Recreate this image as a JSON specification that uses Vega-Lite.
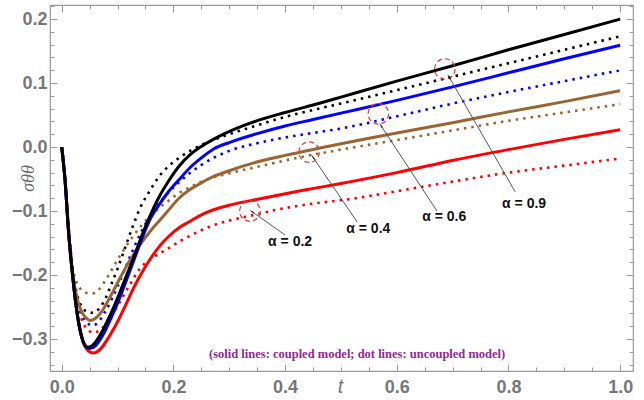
{
"$schema": "https://vega.github.io/schema/vega-lite/v6.json",
"width": 583, "height": 366,
"autosize": "none",
"padding": {"left": 50, "top": 5, "right": 11, "bottom": 29},
"background": "white",
"config": {
 "view": {"stroke": "#9a9a9a", "strokeWidth": 1.2},
 "axis": {"domain": false, "grid": false, "tickColor": "#9a9a9a", "tickWidth": 1, "labelFont": "Liberation Sans", "labelFontWeight": "bold", "labelFontSize": 18, "labelColor": "#777777", "labelFlush": false, "labelOverlap": false}
},
"datasets": {
 "curves": [
  {"a":"0.2","m":"uncoupled","t":0,"v":0},{"a":"0.2","m":"uncoupled","t":0.006,"v":-0.05},{"a":"0.2","m":"uncoupled","t":0.012,"v":-0.122},{"a":"0.2","m":"uncoupled","t":0.02,"v":-0.195},{"a":"0.2","m":"uncoupled","t":0.028,"v":-0.245},{"a":"0.2","m":"uncoupled","t":0.036,"v":-0.27},{"a":"0.2","m":"uncoupled","t":0.045,"v":-0.284},{"a":"0.2","m":"uncoupled","t":0.057,"v":-0.29},{"a":"0.2","m":"uncoupled","t":0.07,"v":-0.285},{"a":"0.2","m":"uncoupled","t":0.085,"v":-0.268},{"a":"0.2","m":"uncoupled","t":0.1,"v":-0.248},{"a":"0.2","m":"uncoupled","t":0.12,"v":-0.218},{"a":"0.2","m":"uncoupled","t":0.14,"v":-0.19},{"a":"0.2","m":"uncoupled","t":0.165,"v":-0.172},{"a":"0.2","m":"uncoupled","t":0.188,"v":-0.16},{"a":"0.2","m":"uncoupled","t":0.21,"v":-0.148},{"a":"0.2","m":"uncoupled","t":0.227,"v":-0.14},{"a":"0.2","m":"uncoupled","t":0.25,"v":-0.13},{"a":"0.2","m":"uncoupled","t":0.272,"v":-0.122},{"a":"0.2","m":"uncoupled","t":0.3,"v":-0.115},{"a":"0.2","m":"uncoupled","t":0.35,"v":-0.105},{"a":"0.2","m":"uncoupled","t":0.39,"v":-0.097},{"a":"0.2","m":"uncoupled","t":0.43,"v":-0.091},{"a":"0.2","m":"uncoupled","t":0.534,"v":-0.079},{"a":"0.2","m":"uncoupled","t":0.6,"v":-0.069},{"a":"0.2","m":"uncoupled","t":0.7,"v":-0.054},{"a":"0.2","m":"uncoupled","t":0.8,"v":-0.04},{"a":"0.2","m":"uncoupled","t":0.9,"v":-0.029},{"a":"0.2","m":"uncoupled","t":1.0,"v":-0.018},
  {"a":"0.4","m":"uncoupled","t":0,"v":0},{"a":"0.4","m":"uncoupled","t":0.006,"v":-0.05},{"a":"0.4","m":"uncoupled","t":0.012,"v":-0.12},{"a":"0.4","m":"uncoupled","t":0.02,"v":-0.19},{"a":"0.4","m":"uncoupled","t":0.028,"v":-0.214},{"a":"0.4","m":"uncoupled","t":0.036,"v":-0.224},{"a":"0.4","m":"uncoupled","t":0.045,"v":-0.228},{"a":"0.4","m":"uncoupled","t":0.054,"v":-0.229},{"a":"0.4","m":"uncoupled","t":0.065,"v":-0.224},{"a":"0.4","m":"uncoupled","t":0.08,"v":-0.206},{"a":"0.4","m":"uncoupled","t":0.1,"v":-0.176},{"a":"0.4","m":"uncoupled","t":0.128,"v":-0.139},{"a":"0.4","m":"uncoupled","t":0.158,"v":-0.108},{"a":"0.4","m":"uncoupled","t":0.188,"v":-0.086},{"a":"0.4","m":"uncoupled","t":0.21,"v":-0.072},{"a":"0.4","m":"uncoupled","t":0.227,"v":-0.064},{"a":"0.4","m":"uncoupled","t":0.25,"v":-0.054},{"a":"0.4","m":"uncoupled","t":0.3,"v":-0.041},{"a":"0.4","m":"uncoupled","t":0.35,"v":-0.031},{"a":"0.4","m":"uncoupled","t":0.4,"v":-0.021},{"a":"0.4","m":"uncoupled","t":0.45,"v":-0.012},{"a":"0.4","m":"uncoupled","t":0.5,"v":-0.004},{"a":"0.4","m":"uncoupled","t":0.6,"v":0.011},{"a":"0.4","m":"uncoupled","t":0.7,"v":0.026},{"a":"0.4","m":"uncoupled","t":0.8,"v":0.041},{"a":"0.4","m":"uncoupled","t":0.9,"v":0.054},{"a":"0.4","m":"uncoupled","t":1.0,"v":0.067},
  {"a":"0.6","m":"uncoupled","t":0,"v":0},{"a":"0.6","m":"uncoupled","t":0.006,"v":-0.052},{"a":"0.6","m":"uncoupled","t":0.012,"v":-0.128},{"a":"0.6","m":"uncoupled","t":0.02,"v":-0.2},{"a":"0.6","m":"uncoupled","t":0.028,"v":-0.24},{"a":"0.6","m":"uncoupled","t":0.036,"v":-0.262},{"a":"0.6","m":"uncoupled","t":0.045,"v":-0.274},{"a":"0.6","m":"uncoupled","t":0.055,"v":-0.279},{"a":"0.6","m":"uncoupled","t":0.065,"v":-0.274},{"a":"0.6","m":"uncoupled","t":0.08,"v":-0.254},{"a":"0.6","m":"uncoupled","t":0.1,"v":-0.218},{"a":"0.6","m":"uncoupled","t":0.12,"v":-0.176},{"a":"0.6","m":"uncoupled","t":0.14,"v":-0.137},{"a":"0.6","m":"uncoupled","t":0.158,"v":-0.108},{"a":"0.6","m":"uncoupled","t":0.176,"v":-0.086},{"a":"0.6","m":"uncoupled","t":0.19,"v":-0.072},{"a":"0.6","m":"uncoupled","t":0.21,"v":-0.055},{"a":"0.6","m":"uncoupled","t":0.25,"v":-0.028},{"a":"0.6","m":"uncoupled","t":0.3,"v":-0.006},{"a":"0.6","m":"uncoupled","t":0.35,"v":0.006},{"a":"0.6","m":"uncoupled","t":0.4,"v":0.015},{"a":"0.6","m":"uncoupled","t":0.45,"v":0.022},{"a":"0.6","m":"uncoupled","t":0.5,"v":0.029},{"a":"0.6","m":"uncoupled","t":0.6,"v":0.048},{"a":"0.6","m":"uncoupled","t":0.7,"v":0.068},{"a":"0.6","m":"uncoupled","t":0.8,"v":0.086},{"a":"0.6","m":"uncoupled","t":0.9,"v":0.103},{"a":"0.6","m":"uncoupled","t":1.0,"v":0.12},
  {"a":"0.9","m":"uncoupled","t":0,"v":0},{"a":"0.9","m":"uncoupled","t":0.006,"v":-0.052},{"a":"0.9","m":"uncoupled","t":0.012,"v":-0.128},{"a":"0.9","m":"uncoupled","t":0.02,"v":-0.195},{"a":"0.9","m":"uncoupled","t":0.028,"v":-0.232},{"a":"0.9","m":"uncoupled","t":0.036,"v":-0.25},{"a":"0.9","m":"uncoupled","t":0.045,"v":-0.257},{"a":"0.9","m":"uncoupled","t":0.055,"v":-0.259},{"a":"0.9","m":"uncoupled","t":0.063,"v":-0.256},{"a":"0.9","m":"uncoupled","t":0.075,"v":-0.242},{"a":"0.9","m":"uncoupled","t":0.09,"v":-0.212},{"a":"0.9","m":"uncoupled","t":0.1,"v":-0.19},{"a":"0.9","m":"uncoupled","t":0.11,"v":-0.166},{"a":"0.9","m":"uncoupled","t":0.128,"v":-0.122},{"a":"0.9","m":"uncoupled","t":0.14,"v":-0.096},{"a":"0.9","m":"uncoupled","t":0.158,"v":-0.068},{"a":"0.9","m":"uncoupled","t":0.176,"v":-0.044},{"a":"0.9","m":"uncoupled","t":0.19,"v":-0.031},{"a":"0.9","m":"uncoupled","t":0.21,"v":-0.017},{"a":"0.9","m":"uncoupled","t":0.23,"v":-0.006},{"a":"0.9","m":"uncoupled","t":0.25,"v":0.003},{"a":"0.9","m":"uncoupled","t":0.3,"v":0.02},{"a":"0.9","m":"uncoupled","t":0.35,"v":0.034},{"a":"0.9","m":"uncoupled","t":0.4,"v":0.047},{"a":"0.9","m":"uncoupled","t":0.46,"v":0.06},{"a":"0.9","m":"uncoupled","t":0.5,"v":0.068},{"a":"0.9","m":"uncoupled","t":0.6,"v":0.089},{"a":"0.9","m":"uncoupled","t":0.7,"v":0.11},{"a":"0.9","m":"uncoupled","t":0.8,"v":0.131},{"a":"0.9","m":"uncoupled","t":0.9,"v":0.152},{"a":"0.9","m":"uncoupled","t":1.0,"v":0.173},
  {"a":"0.2","m":"coupled","t":0,"v":0},{"a":"0.2","m":"coupled","t":0.006,"v":-0.052},{"a":"0.2","m":"coupled","t":0.012,"v":-0.13},{"a":"0.2","m":"coupled","t":0.02,"v":-0.205},{"a":"0.2","m":"coupled","t":0.028,"v":-0.262},{"a":"0.2","m":"coupled","t":0.036,"v":-0.298},{"a":"0.2","m":"coupled","t":0.045,"v":-0.316},{"a":"0.2","m":"coupled","t":0.057,"v":-0.322},{"a":"0.2","m":"coupled","t":0.07,"v":-0.315},{"a":"0.2","m":"coupled","t":0.085,"v":-0.296},{"a":"0.2","m":"coupled","t":0.1,"v":-0.273},{"a":"0.2","m":"coupled","t":0.115,"v":-0.246},{"a":"0.2","m":"coupled","t":0.13,"v":-0.218},{"a":"0.2","m":"coupled","t":0.145,"v":-0.194},{"a":"0.2","m":"coupled","t":0.16,"v":-0.173},{"a":"0.2","m":"coupled","t":0.176,"v":-0.154},{"a":"0.2","m":"coupled","t":0.19,"v":-0.141},{"a":"0.2","m":"coupled","t":0.212,"v":-0.125},{"a":"0.2","m":"coupled","t":0.23,"v":-0.116},{"a":"0.2","m":"coupled","t":0.25,"v":-0.106},{"a":"0.2","m":"coupled","t":0.272,"v":-0.098},{"a":"0.2","m":"coupled","t":0.3,"v":-0.091},{"a":"0.2","m":"coupled","t":0.36,"v":-0.08},{"a":"0.2","m":"coupled","t":0.43,"v":-0.068},{"a":"0.2","m":"coupled","t":0.5,"v":-0.057},{"a":"0.2","m":"coupled","t":0.6,"v":-0.04},{"a":"0.2","m":"coupled","t":0.7,"v":-0.021},{"a":"0.2","m":"coupled","t":0.8,"v":-0.004},{"a":"0.2","m":"coupled","t":0.9,"v":0.012},{"a":"0.2","m":"coupled","t":1.0,"v":0.027},
  {"a":"0.4","m":"coupled","t":0,"v":0},{"a":"0.4","m":"coupled","t":0.006,"v":-0.052},{"a":"0.4","m":"coupled","t":0.012,"v":-0.128},{"a":"0.4","m":"coupled","t":0.02,"v":-0.2},{"a":"0.4","m":"coupled","t":0.028,"v":-0.238},{"a":"0.4","m":"coupled","t":0.036,"v":-0.258},{"a":"0.4","m":"coupled","t":0.045,"v":-0.268},{"a":"0.4","m":"coupled","t":0.051,"v":-0.271},{"a":"0.4","m":"coupled","t":0.06,"v":-0.268},{"a":"0.4","m":"coupled","t":0.07,"v":-0.259},{"a":"0.4","m":"coupled","t":0.085,"v":-0.237},{"a":"0.4","m":"coupled","t":0.1,"v":-0.212},{"a":"0.4","m":"coupled","t":0.12,"v":-0.18},{"a":"0.4","m":"coupled","t":0.14,"v":-0.153},{"a":"0.4","m":"coupled","t":0.16,"v":-0.13},{"a":"0.4","m":"coupled","t":0.176,"v":-0.114},{"a":"0.4","m":"coupled","t":0.19,"v":-0.1},{"a":"0.4","m":"coupled","t":0.21,"v":-0.08},{"a":"0.4","m":"coupled","t":0.227,"v":-0.068},{"a":"0.4","m":"coupled","t":0.25,"v":-0.056},{"a":"0.4","m":"coupled","t":0.272,"v":-0.046},{"a":"0.4","m":"coupled","t":0.3,"v":-0.037},{"a":"0.4","m":"coupled","t":0.36,"v":-0.021},{"a":"0.4","m":"coupled","t":0.4,"v":-0.013},{"a":"0.4","m":"coupled","t":0.46,"v":-0.002},{"a":"0.4","m":"coupled","t":0.534,"v":0.011},{"a":"0.4","m":"coupled","t":0.6,"v":0.022},{"a":"0.4","m":"coupled","t":0.7,"v":0.038},{"a":"0.4","m":"coupled","t":0.8,"v":0.055},{"a":"0.4","m":"coupled","t":0.9,"v":0.071},{"a":"0.4","m":"coupled","t":1.0,"v":0.088},
  {"a":"0.6","m":"coupled","t":0,"v":0},{"a":"0.6","m":"coupled","t":0.006,"v":-0.052},{"a":"0.6","m":"coupled","t":0.012,"v":-0.13},{"a":"0.6","m":"coupled","t":0.02,"v":-0.205},{"a":"0.6","m":"coupled","t":0.028,"v":-0.262},{"a":"0.6","m":"coupled","t":0.036,"v":-0.298},{"a":"0.6","m":"coupled","t":0.045,"v":-0.313},{"a":"0.6","m":"coupled","t":0.05,"v":-0.315},{"a":"0.6","m":"coupled","t":0.06,"v":-0.311},{"a":"0.6","m":"coupled","t":0.075,"v":-0.292},{"a":"0.6","m":"coupled","t":0.09,"v":-0.264},{"a":"0.6","m":"coupled","t":0.1,"v":-0.244},{"a":"0.6","m":"coupled","t":0.115,"v":-0.21},{"a":"0.6","m":"coupled","t":0.13,"v":-0.175},{"a":"0.6","m":"coupled","t":0.145,"v":-0.14},{"a":"0.6","m":"coupled","t":0.16,"v":-0.11},{"a":"0.6","m":"coupled","t":0.176,"v":-0.088},{"a":"0.6","m":"coupled","t":0.19,"v":-0.071},{"a":"0.6","m":"coupled","t":0.21,"v":-0.051},{"a":"0.6","m":"coupled","t":0.23,"v":-0.032},{"a":"0.6","m":"coupled","t":0.25,"v":-0.017},{"a":"0.6","m":"coupled","t":0.272,"v":-0.003},{"a":"0.6","m":"coupled","t":0.3,"v":0.007},{"a":"0.6","m":"coupled","t":0.35,"v":0.021},{"a":"0.6","m":"coupled","t":0.4,"v":0.033},{"a":"0.6","m":"coupled","t":0.45,"v":0.043},{"a":"0.6","m":"coupled","t":0.5,"v":0.053},{"a":"0.6","m":"coupled","t":0.6,"v":0.073},{"a":"0.6","m":"coupled","t":0.7,"v":0.094},{"a":"0.6","m":"coupled","t":0.8,"v":0.116},{"a":"0.6","m":"coupled","t":0.9,"v":0.138},{"a":"0.6","m":"coupled","t":1.0,"v":0.159},
  {"a":"0.9","m":"coupled","t":0,"v":0},{"a":"0.9","m":"coupled","t":0.006,"v":-0.052},{"a":"0.9","m":"coupled","t":0.012,"v":-0.13},{"a":"0.9","m":"coupled","t":0.02,"v":-0.205},{"a":"0.9","m":"coupled","t":0.028,"v":-0.262},{"a":"0.9","m":"coupled","t":0.036,"v":-0.297},{"a":"0.9","m":"coupled","t":0.045,"v":-0.313},{"a":"0.9","m":"coupled","t":0.055,"v":-0.31},{"a":"0.9","m":"coupled","t":0.07,"v":-0.292},{"a":"0.9","m":"coupled","t":0.085,"v":-0.266},{"a":"0.9","m":"coupled","t":0.1,"v":-0.236},{"a":"0.9","m":"coupled","t":0.115,"v":-0.203},{"a":"0.9","m":"coupled","t":0.13,"v":-0.17},{"a":"0.9","m":"coupled","t":0.145,"v":-0.135},{"a":"0.9","m":"coupled","t":0.16,"v":-0.104},{"a":"0.9","m":"coupled","t":0.175,"v":-0.077},{"a":"0.9","m":"coupled","t":0.19,"v":-0.055},{"a":"0.9","m":"coupled","t":0.21,"v":-0.03},{"a":"0.9","m":"coupled","t":0.23,"v":-0.012},{"a":"0.9","m":"coupled","t":0.25,"v":0.001},{"a":"0.9","m":"coupled","t":0.28,"v":0.016},{"a":"0.9","m":"coupled","t":0.33,"v":0.035},{"a":"0.9","m":"coupled","t":0.4,"v":0.054},{"a":"0.9","m":"coupled","t":0.46,"v":0.068},{"a":"0.9","m":"coupled","t":0.5,"v":0.078},{"a":"0.9","m":"coupled","t":0.6,"v":0.103},{"a":"0.9","m":"coupled","t":0.7,"v":0.127},{"a":"0.9","m":"coupled","t":0.8,"v":0.152},{"a":"0.9","m":"coupled","t":0.9,"v":0.176},{"a":"0.9","m":"coupled","t":1.0,"v":0.2}
 ],
 "annots": [
  {"label":"α = 0.2","ct":0.337,"cv":-0.100,"st":0.400,"sv":-0.1375,"ht":0.341,"hv":-0.101,"lt":0.409,"lv":-0.148},
  {"label":"α = 0.4","ct":0.443,"cv":-0.008,"st":0.529,"sv":-0.117,"ht":0.450,"hv":-0.016,"lt":0.549,"lv":-0.128},
  {"label":"α = 0.6","ct":0.567,"cv":0.052,"st":0.672,"sv":-0.100,"ht":0.572,"hv":0.033,"lt":0.685,"lv":-0.109},
  {"label":"α = 0.9","ct":0.686,"cv":0.122,"st":0.812,"sv":-0.070,"ht":0.694,"hv":0.109,"lt":0.828,"lv":-0.089}
 ],
 "note": [{"t":0.529,"v":-0.323,"text":"(solid lines: coupled model; dot lines: uncoupled model)"}]
},
"layer": [
 {
  "mark": {"type": "rule", "color": "#8a8a8a", "strokeWidth": 1},
  "encoding": {"y": {"datum": 0, "type": "quantitative", "scale": {"domain": [-0.35, 0.222], "nice": false, "zero": false}, "axis": null}}
 },
 {
  "data": {"name": "curves"},
  "transform": [{"filter": "datum.m == 'uncoupled'"}],
  "mark": {"type": "line", "strokeWidth": 2.6, "strokeDash": [2.5, 5], "strokeCap": "butt", "interpolate": "monotone"},
  "encoding": {
   "x": {"field": "t", "type": "quantitative", "scale": {"domain": [-0.021, 1.023], "nice": false, "zero": false},
     "axis": {"orient": "top", "title": null, "labels": false, "values": [0,0.05,0.1,0.15,0.2,0.25,0.3,0.35,0.4,0.45,0.5,0.55,0.6,0.65,0.7,0.75,0.8,0.85,0.9,0.95,1.0],
       "tickSize": {"condition": {"test": "abs(datum.value*5-round(datum.value*5))<1e-6", "value": -7}, "value": -4}}},
   "y": {"field": "v", "type": "quantitative", "scale": {"domain": [-0.35, 0.222], "nice": false, "zero": false},
     "axis": {"orient": "right", "title": null, "labels": false, "values": [-0.34,-0.32,-0.3,-0.28,-0.26,-0.24,-0.22,-0.2,-0.18,-0.16,-0.14,-0.12,-0.1,-0.08,-0.06,-0.04,-0.02,0,0.02,0.04,0.06,0.08,0.1,0.12,0.14,0.16,0.18,0.2,0.22],
       "tickSize": {"condition": {"test": "abs(datum.value*10-round(datum.value*10))<1e-6", "value": -7}, "value": -4}}},
   "color": {"field": "a", "type": "nominal", "scale": {"domain": ["0.2","0.4","0.6","0.9"], "range": ["#ff0000","#996633","#0000ff","#000000"]}, "legend": null},
   "detail": {"field": "a"}
  }
 },
 {
  "data": {"name": "curves"},
  "transform": [{"filter": "datum.m == 'coupled'"}],
  "mark": {"type": "line", "strokeWidth": 3, "interpolate": "monotone"},
  "encoding": {
   "x": {"field": "t", "type": "quantitative", "scale": {"domain": [-0.021, 1.023], "nice": false, "zero": false},
     "axis": {"orient": "bottom", "values": [0,0.05,0.1,0.15,0.2,0.25,0.3,0.35,0.4,0.45,0.5,0.55,0.6,0.65,0.7,0.75,0.8,0.85,0.9,0.95,1.0],
       "labelExpr": "abs(datum.value*5-round(datum.value*5))<1e-6 ? format(datum.value, '.1f') : ''",
       "tickSize": {"condition": {"test": "abs(datum.value*5-round(datum.value*5))<1e-6", "value": -7}, "value": -4},
       "labelPadding": 14,
       "title": "t", "titleFont": "Liberation Sans", "titleFontStyle": "italic", "titleFontWeight": "normal", "titleFontSize": 20, "titleColor": "#777777",
       "titleX": 290, "titleY": 15, "titleBaseline": "middle", "titleAlign": "center"}},
   "y": {"field": "v", "type": "quantitative", "scale": {"domain": [-0.35, 0.222], "nice": false, "zero": false},
     "axis": {"orient": "left", "values": [-0.34,-0.32,-0.3,-0.28,-0.26,-0.24,-0.22,-0.2,-0.18,-0.16,-0.14,-0.12,-0.1,-0.08,-0.06,-0.04,-0.02,0,0.02,0.04,0.06,0.08,0.1,0.12,0.14,0.16,0.18,0.2,0.22],
       "labelExpr": "abs(datum.value*10-round(datum.value*10))<1e-6 ? format(datum.value, '.1f') : ''",
       "tickSize": {"condition": {"test": "abs(datum.value*10-round(datum.value*10))<1e-6", "value": -7}, "value": -4},
       "labelPadding": 10,
       "title": "σθθ", "titleFont": "Liberation Serif", "titleFontStyle": "italic", "titleFontWeight": "normal", "titleFontSize": 18, "titleColor": "#6a6a6a",
       "titleX": -22, "titleY": 173, "titleAngle": 270, "titleBaseline": "middle", "titleAlign": "center"}},
   "color": {"field": "a", "type": "nominal", "scale": {"domain": ["0.2","0.4","0.6","0.9"], "range": ["#ff0000","#996633","#0000ff","#000000"]}, "legend": null},
   "detail": {"field": "a"}
  }
 },
 {
  "data": {"name": "annots"},
  "mark": {"type": "point", "shape": "circle", "filled": false, "stroke": "#e23c3c", "strokeWidth": 1.2, "strokeDash": [5, 3], "size": 420, "opacity": 1},
  "encoding": {
   "x": {"field": "ct", "type": "quantitative", "axis": null},
   "y": {"field": "cv", "type": "quantitative", "axis": null}
  }
 },
 {
  "data": {"name": "annots"},
  "mark": {"type": "rule", "color": "#555555", "strokeWidth": 1},
  "encoding": {
   "x": {"field": "st", "type": "quantitative", "axis": null},
   "y": {"field": "sv", "type": "quantitative", "axis": null},
   "x2": {"field": "ht"},
   "y2": {"field": "hv"}
  }
 },
 {
  "data": {"name": "annots"},
  "transform": [{"filter": "datum.label == 'α = 0.2'"}],
  "mark": {"type": "point", "shape": "wedge", "filled": true, "color": "#222222", "size": 45, "angle": 306, "opacity": 1},
  "encoding": {"x": {"field": "ht", "type": "quantitative", "axis": null}, "y": {"field": "hv", "type": "quantitative", "axis": null}}
 },
 {
  "data": {"name": "annots"},
  "transform": [{"filter": "datum.label == 'α = 0.4'"}],
  "mark": {"type": "point", "shape": "wedge", "filled": true, "color": "#222222", "size": 45, "angle": 326, "opacity": 1},
  "encoding": {"x": {"field": "ht", "type": "quantitative", "axis": null}, "y": {"field": "hv", "type": "quantitative", "axis": null}}
 },
 {
  "data": {"name": "annots"},
  "transform": [{"filter": "datum.label == 'α = 0.6'"}],
  "mark": {"type": "point", "shape": "wedge", "filled": true, "color": "#222222", "size": 45, "angle": 327, "opacity": 1},
  "encoding": {"x": {"field": "ht", "type": "quantitative", "axis": null}, "y": {"field": "hv", "type": "quantitative", "axis": null}}
 },
 {
  "data": {"name": "annots"},
  "transform": [{"filter": "datum.label == 'α = 0.9'"}],
  "mark": {"type": "point", "shape": "wedge", "filled": true, "color": "#222222", "size": 45, "angle": 330, "opacity": 1},
  "encoding": {"x": {"field": "ht", "type": "quantitative", "axis": null}, "y": {"field": "hv", "type": "quantitative", "axis": null}}
 },
 {
  "data": {"name": "annots"},
  "mark": {"type": "text", "font": "Liberation Sans", "fontWeight": "bold", "fontSize": 14, "color": "#111111", "align": "center", "baseline": "middle"},
  "encoding": {
   "x": {"field": "lt", "type": "quantitative", "axis": null},
   "y": {"field": "lv", "type": "quantitative", "axis": null},
   "text": {"field": "label"}
  }
 },
 {
  "data": {"name": "note"},
  "mark": {"type": "text", "font": "Liberation Serif", "fontWeight": "bold", "fontSize": 12.5, "color": "#8e2a8e", "align": "center", "baseline": "middle"},
  "encoding": {
   "x": {"field": "t", "type": "quantitative", "axis": null},
   "y": {"field": "v", "type": "quantitative", "axis": null},
   "text": {"field": "text"}
  }
 }
],
"resolve": {"axis": {"x": "independent", "y": "independent"}}
}
